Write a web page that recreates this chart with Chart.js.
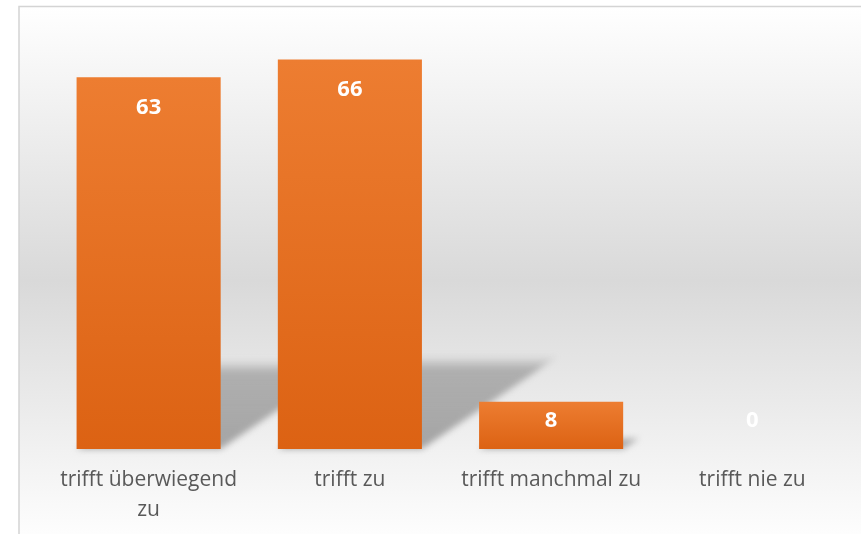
<!DOCTYPE html>
<html>
<head>
<meta charset="utf-8">
<script src="https://cdn.jsdelivr.net/npm/chart.js@4.4.1/dist/chart.umd.min.js"></script>
<style>
  html, body { margin: 0; padding: 0; background: #ffffff; }
  #wrap { width: 861px; height: 534px; position: relative; }
</style>
</head>
<body>
<div id="wrap"><canvas id="graph-canvas" width="861" height="534"></canvas></div>
<script>
// Daten
var kategorien = [['trifft überwiegend', 'zu'], 'trifft zu', 'trifft manchmal zu', 'trifft nie zu'];
var werte = [63, 66, 8, 0];
var yMax = 70;

// Hintergrund mit Rahmen
var hintergrund = {
	id: 'hintergrund',
	beforeDraw: function(chart) {
		var c = chart.ctx;
		var g = c.createLinearGradient(0, 6, 0, 534);
		g.addColorStop(0, '#ffffff');
		g.addColorStop(0.52, '#d9d9d9');
		g.addColorStop(1, '#fdfdfd');
		c.save();
		c.fillStyle = g;
		c.fillRect(19, 6, 861, 534);
		c.strokeStyle = '#d4d4d4';
		c.lineWidth = 1.5;
		c.beginPath();
		c.moveTo(19, 534);
		c.lineTo(19, 6.5);
		c.lineTo(861, 6.5);
		c.stroke();
		c.restore();
	}
};

// perspektivischer Schatten hinter den Balken
var schatten = {
	id: 'schatten',
	beforeDatasetsDraw: function(chart) {
		var c = chart.ctx;
		var meta = chart.getDatasetMeta(0);
		c.save();
		c.filter = 'blur(3px)';
		meta.data.forEach(function(bar) {
			var h = (bar.base - bar.y) * 0.24;
			if (h < 1) return;
			var dx = h * 1.47;
			var left = bar.x - bar.width / 2;
			var right = bar.x + bar.width / 2;
			var g = c.createLinearGradient(0, bar.base, 0, bar.base - h);
			g.addColorStop(0, 'rgba(145,145,145,0.8)');
			g.addColorStop(0.85, 'rgba(145,145,145,0.65)');
			g.addColorStop(1, 'rgba(145,145,145,0)');
			c.fillStyle = g;
			c.beginPath();
			c.moveTo(left, bar.base);
			c.lineTo(right, bar.base);
			c.lineTo(right + dx, bar.base - h);
			c.lineTo(left + dx, bar.base - h);
			c.closePath();
			c.fill();
		});
		c.restore();
	}
};

// Werte in den Balken
var werteLabels = {
	id: 'werteLabels',
	afterDatasetsDraw: function(chart) {
		var c = chart.ctx;
		var meta = chart.getDatasetMeta(0);
		c.save();
		c.font = 'bold 22px "Open Sans"';
		c.fillStyle = '#ffffff';
		c.textAlign = 'center';
		c.textBaseline = 'middle';
		meta.data.forEach(function(bar, i) {
			var y = Math.min(bar.y + 30, bar.base - 28);
			c.fillText(String(werte[i]), bar.x, y);
		});
		c.restore();
	}
};

function balkenFarbe(context) {
	var chart = context.chart;
	var y = chart.scales.y;
	if (!y || context.dataIndex === undefined) return '#e46c1d';
	var top = y.getPixelForValue(werte[context.dataIndex]);
	var base = y.getPixelForValue(0);
	if (!isFinite(top) || base - top < 1) return '#ed7d31';
	var g = chart.ctx.createLinearGradient(0, top, 0, base);
	g.addColorStop(0, '#ed7d31');
	g.addColorStop(1, '#dc6213');
	return g;
}

var ctx = document.getElementById('graph-canvas');

var barGraph = new Chart(ctx, {
	type: 'bar',
	data: {
		labels: kategorien,
		datasets: [
			{
				label: 'Anzahl',
				data: werte,
				backgroundColor: balkenFarbe,
				borderWidth: 0,
				barPercentage: 0.716,
				categoryPercentage: 1
			}
		]
	},
	options: {
		responsive: false,
		animation: false,
		layout: { padding: { left: 48, right: 8, top: 36, bottom: 0 } },
		plugins: {
			legend: { display: false },
			tooltip: { enabled: false }
		},
		scales: {
			x: {
				grid: { display: false, drawTicks: false },
				border: { display: false },
				ticks: {
					color: '#595959',
					font: { family: '"Open Sans"', size: 21, lineHeight: 1.43 },
					padding: 16,
					maxRotation: 0,
					autoSkip: false
				},
				afterFit: function(scale) { scale.height = 85; }
			},
			y: {
				display: false,
				min: 0,
				max: yMax
			}
		}
	},
	plugins: [hintergrund, schatten, werteLabels]
});
</script>
</body>
</html>
